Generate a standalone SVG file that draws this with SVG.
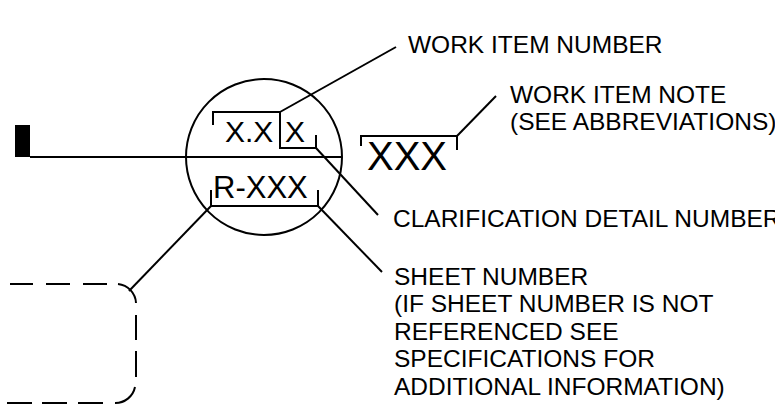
<svg xmlns="http://www.w3.org/2000/svg" width="775" height="418" viewBox="0 0 775 418">
  <style>
    .ln { fill: none; stroke: #000; stroke-width: 2; stroke-linecap: butt; }
    .lbl { font-family: "Liberation Sans", Arial, sans-serif; font-size: 24.5px; fill: #000; }
    .sym { font-family: "Liberation Sans", Arial, sans-serif; fill: #000; }
  </style>
  <rect width="775" height="418" fill="#fff"/>

  <!-- work item symbol: tag, line, circle -->
  <g id="symbol">
    <rect x="15" y="125" width="15" height="32" fill="#000"/>
    <line class="ln" x1="30" y1="157" x2="342" y2="157"/>
    <circle class="ln" cx="264" cy="157" r="78"/>
    <text class="sym" x="225" y="142" font-size="30">X.X</text>
    <text class="sym" x="285" y="142" font-size="30">X</text>
    <text class="sym" x="213" y="198" font-size="31">R-XXX</text>
    <path class="ln" d="M213,125 V112 H280 V148 H316 V135"/>
    <path class="ln" d="M211,190 V206 H318 V190"/>
  </g>

  <!-- work item note -->
  <g id="note">
    <text class="sym" x="367" y="170" font-size="40">XXX</text>
    <path class="ln" d="M361,146 V136 H457 V150"/>
  </g>

  <!-- dashed detail outline -->
  <g id="detail">
    <path class="ln" d="M10,284 H33 M46,284 H70 M83,284 H107"/>
    <path class="ln" d="M118,284 A20,20 0 0 1 136,303"/>
    <path class="ln" d="M136,315 V340 M136,351 V377"/>
    <path class="ln" d="M135,387 A20,20 0 0 1 115,403"/>
    <path class="ln" d="M7,403 H32 M42,403 H67 M78,403 H103"/>
  </g>

  <!-- leaders -->
  <g id="connectors">
    <line class="ln" x1="280" y1="112" x2="396" y2="47"/>
    <line class="ln" x1="457" y1="136" x2="496" y2="96"/>
    <line class="ln" x1="316" y1="148" x2="378" y2="215"/>
    <line class="ln" x1="318" y1="206" x2="382" y2="272"/>
    <line class="ln" x1="211" y1="206" x2="129" y2="291"/>
  </g>

  <!-- labels -->
  <g id="labels">
    <text class="lbl" x="408" y="53">WORK ITEM NUMBER</text>
    <text class="lbl" x="510" y="103">WORK ITEM NOTE</text>
    <text class="lbl" x="510" y="130">(SEE ABBREVIATIONS)</text>
    <text class="lbl" x="393" y="227">CLARIFICATION DETAIL NUMBER</text>
    <text class="lbl" x="394" y="285">SHEET NUMBER</text>
    <text class="lbl" x="394" y="312">(IF SHEET NUMBER IS NOT</text>
    <text class="lbl" x="394" y="340">REFERENCED SEE</text>
    <text class="lbl" x="394" y="367">SPECIFICATIONS FOR</text>
    <text class="lbl" x="394" y="395">ADDITIONAL INFORMATION)</text>
  </g>
</svg>
